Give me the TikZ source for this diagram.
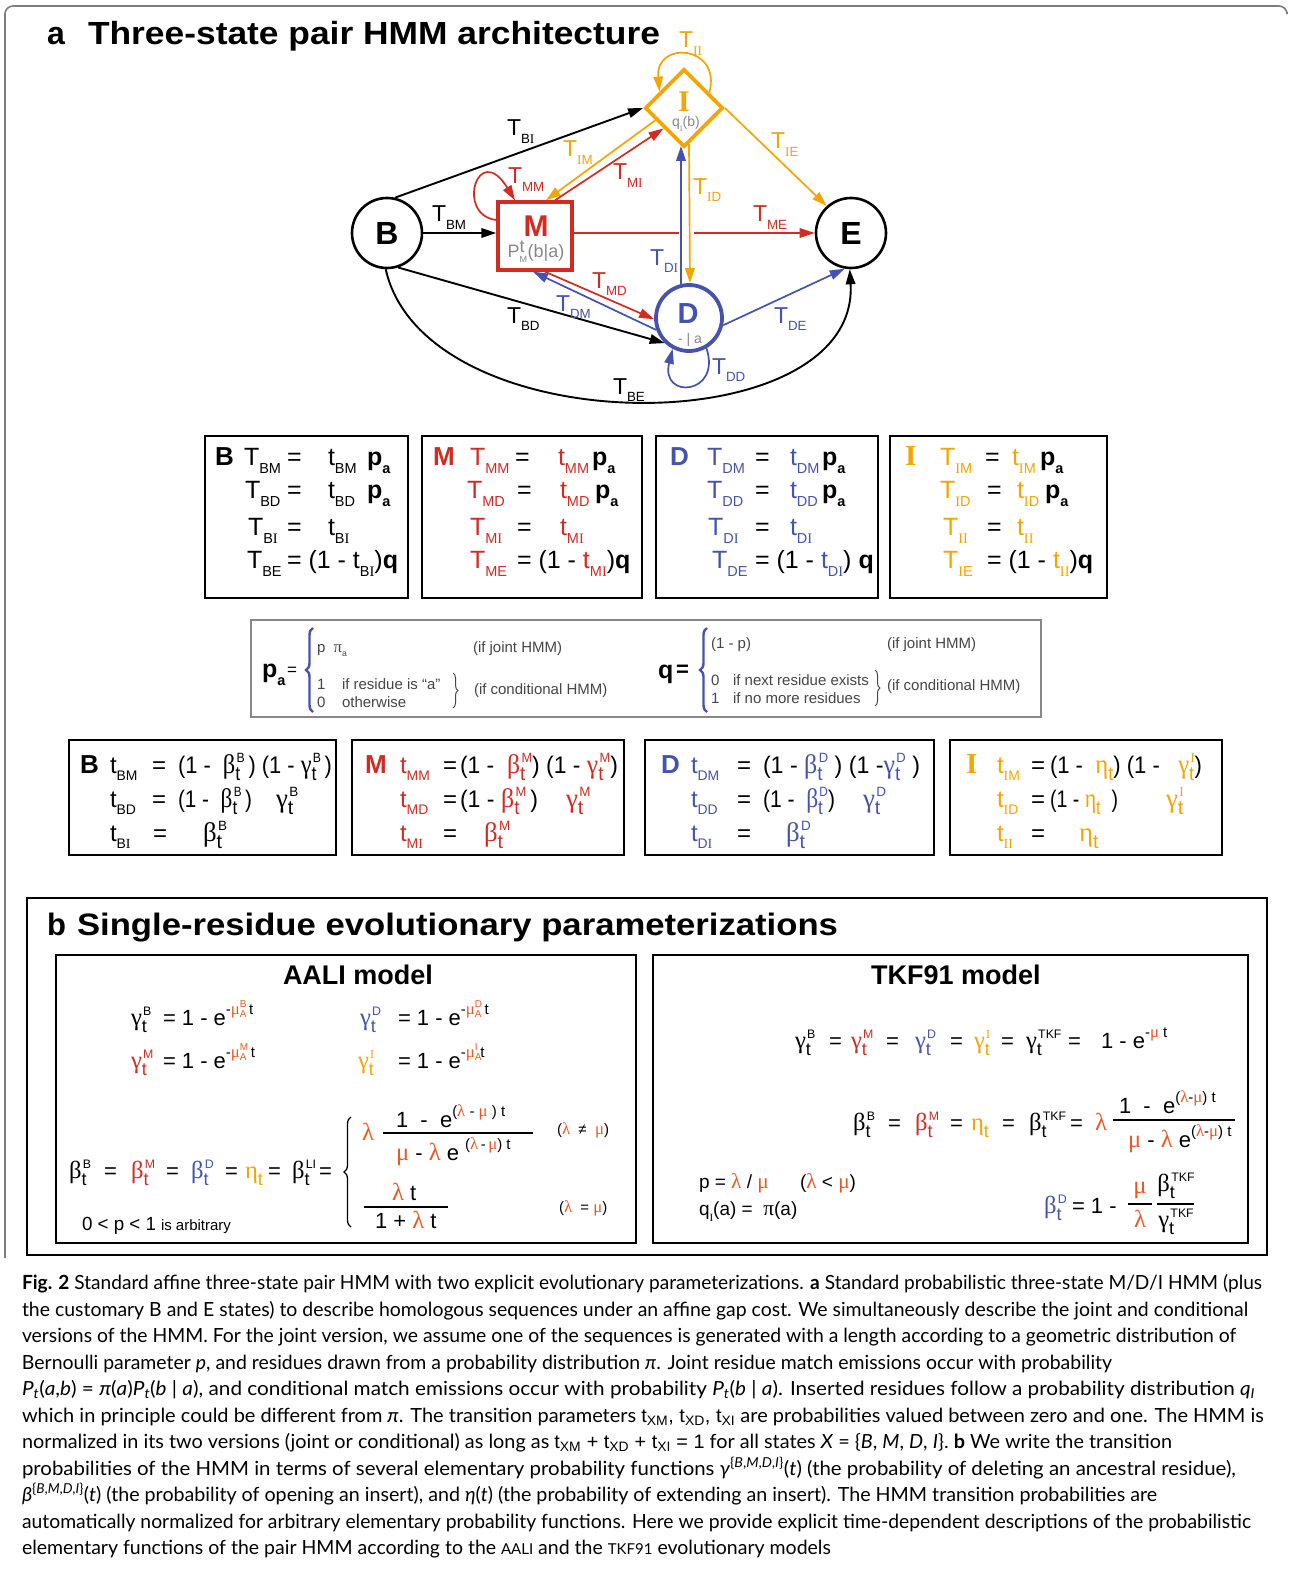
\documentclass[tikz,border=0pt]{standalone}
\usepackage{fontspec}
\usepackage{graphicx}
\setmainfont{Liberation Sans}
\newfontfamily\serifr{Liberation Serif}
\newfontfamily\capfont{Lato}
\usetikzlibrary{arrows.meta,shapes.geometric,decorations.pathreplacing,calc}

\definecolor{cM}{RGB}{211,42,34}
\definecolor{cD}{RGB}{70,82,176}
\definecolor{cI}{RGB}{246,165,0}
\definecolor{cL}{RGB}{238,88,30}
\definecolor{cG}{RGB}{135,135,135}
\definecolor{cT}{RGB}{70,70,70}
\definecolor{cF}{RGB}{125,125,125}

% font size, sub/superscripts, stacked scripts
\newcommand\fsz[1]{\fontsize{#1}{#1}\selectfont}
\newcommand\lo[1]{\raisebox{-0.32em}{\scalebox{0.58}{#1}}}
\newcommand\hi[1]{\raisebox{0.5em}{\scalebox{0.58}{#1}}}
% scripts of the Greek rate functions: a large subscript t, a small superscript
\newsavebox\gsbA
\newsavebox\gsbB
\newcommand\glo[1]{\raisebox{-0.32em}{\scalebox{0.82}{#1}}}
\newcommand\ghi[1]{\raisebox{0.44em}{\scalebox{0.56}{#1}}}
\newcommand\glohi[2]{\mbox{\sbox\gsbA{\glo{#1}}\sbox\gsbB{\hspace{0.06em}\ghi{#2}}%
  \ifdim\wd\gsbA>\wd\gsbB \rlap{\usebox\gsbB}\usebox\gsbA\else\rlap{\usebox\gsbA}\usebox\gsbB\fi}}
\newcommand\gk[1]{\scalebox{1.12}{\serifr #1}}
\newcommand\sBt[1]{\gk{β}\glohi{t}{#1}}
\newcommand\sGt[1]{\gk{γ}\glohi{t}{#1}}
\newcommand\sEt{\gk{η}\glo{t}}
\newcommand\gLam{\gk{λ}}
\newcommand\gMu{\gk{μ}}
\newcommand\gPi{\gk{π}}
\newcommand\sI{{\serifr I}}
\newcommand\wb[2]{\resizebox{#1pt}{\height}{#2}}
\newcommand\ssc[3]{\mbox{\rlap{\raisebox{-0.25em}{\fsz{#1}#2}}\raisebox{0.45em}{\fsz{#1}#3}}}
\newcommand\expo[1]{\raisebox{0.5em}{\fsz{15}#1}}
\newcounter{tn}
\newcommand\putt[3][]{\stepcounter{tn}\node[txtst,#1] (t\arabic{tn}) at (#2) {#3};}

\begin{document}
\begin{tikzpicture}[x=1pt,y=-1pt,
  txtst/.style={anchor=base west,inner sep=0pt,outer sep=0pt},
  tip/.style={-{Triangle[length=15pt,width=9.5pt]}},
  blk/.style={tip,line width=1.9pt,black},
  rd/.style={tip,line width=1.7pt,cM},
  bl/.style={tip,line width=1.7pt,cD},
  og/.style={tip,line width=1.7pt,cI},
  frm/.style={line width=2pt,black},
  lab/.style={font=\fsz{23}},
  cbr/.style={decorate,decoration={brace,amplitude=7pt},line width=2.4pt,cD}]
\useasboundingbox (0,0) rectangle (1290,1573);
\fill[white] (0,0) rectangle (1290,1573);

% ---------- panel a frame and title ----------
\draw[cF,line width=1.6pt,rounded corners=8pt] (5,1258) -- (5,6) -- (1287,6) -- (1287,12);
\putt[font=\bfseries\fsz{32}]{47,45}{a}
\putt[font=\bfseries\fsz{32}]{88,45}{\wb{572}{Three-state pair HMM architecture}}

% ---------- states ----------
\node[circle,draw,line width=2.6pt,minimum size=70pt,inner sep=0pt,font=\bfseries\fsz{32}] (B) at (387,233) {B};
\node[circle,draw,line width=2.6pt,minimum size=70pt,inner sep=0pt,font=\bfseries\fsz{32}] (E) at (851,233) {E};
\node[draw=cM,line width=3.4pt,minimum width=74pt,minimum height=68pt,inner sep=0pt] (M) at (535,236) {};
\node[cM,font=\bfseries\fsz{30}] (Mt) at (536,226) {M};
\node[cG,font=\fsz{18}] (Mp) at (536,252) {P\rlap{\raisebox{-0.3em}{\scalebox{0.5}{M}}}\raisebox{0.25em}{t}\,(b|a)};
\node[diamond,draw=cI,line width=3.8pt,minimum width=78pt,minimum height=78pt,inner sep=0pt] (I) at (684,108) {};
\node[cI,font=\serifr\bfseries\fsz{30}] (It) at (684,102) {I};
\node[cG,font=\fsz{14}] (Iq) at (686,124) {q\lo{\sI}(b)};
\node[circle,draw=cD,line width=3.8pt,minimum size=66pt,inner sep=0pt] (D) at (689,318) {};
\node[cD,font=\bfseries\fsz{29}] (Dt) at (688,314) {D};
\node[cG,font=\fsz{14}] (Da) at (690,340) {- | a};

% ---------- transitions ----------
\draw[blk] (B.77) -- (I.west);
\draw[blk] (B.east) -- (M.west |- B.east);
\draw[blk] (B.-72) -- (D.226);
\draw[blk] (B.-92) .. controls (425,445) and (860,445) .. (E.-92);
\draw[rd] ($(M.west)+(0,-16)$) .. controls (455,215) and (478,140) .. ($(M.north)+(-20,0)$);
\draw[rd] ($(M.north)+(20,0)$) -- (I.south west);
\draw[og] ($(I.west)!0.3!(I.south)$) -- ($(M.north)+(11,0)$);
\draw[rd] (M.east |- E.west) -- (E.west);
\fill[white] (679,228) rectangle (694,238);
\draw[bl] ($(D.north)+(-8,1)$) -- ($(I.south)+(-3,-3)$);
\draw[og] ($(I.south)+(5,-5)$) -- ($(D.north)+(1,0)$);
\draw[og] (I.east) -- (E.132);
\draw[rd] ($(M.south)+(10,0)$) -- (D.182);
\draw[bl] (D.200) -- ($(M.south)+(-2,0)$);
\draw[bl] (D.-12) -- (E.-100);
\draw[bl] (D.-60) .. controls (722,395) and (660,400) .. (D.-118);
\draw[og] ($(I.north)!0.62!(I.east)$) .. controls (722,45) and (655,40) .. ($(I.north)!0.6!(I.west)$);

% transition labels
\putt[lab,cI]{679,48}{T\lo{\sI\sI}}
\putt[lab]{507,136}{T\lo{B\sI}}
\putt[lab,cI]{563,157}{T\lo{\sI M}}
\putt[lab,cM]{613,180}{T\lo{M\sI}}
\putt[lab,cM]{508,184}{T\lo{MM}}
\putt[lab,cI]{693,194}{T\lo{\sI D}}
\putt[lab,cI]{771,149}{T\lo{\sI E}}
\putt[lab]{432,222}{T\lo{BM}}
\putt[lab,cM]{753,222}{T\lo{ME}}
\putt[lab,cD]{650,265}{T\lo{D\sI}}
\putt[lab,cM]{592,288}{T\lo{MD}}
\putt[lab,cD]{556,311}{T\lo{DM}}
\putt[lab]{507,323}{T\lo{BD}}
\putt[lab,cD]{774,323}{T\lo{DE}}
\putt[lab,cD]{712,374}{T\lo{DD}}
\putt[lab]{613,394}{T\lo{BE}}

% ---------- transition probability boxes ----------
\draw[frm] (205,436) rectangle (408,598);
\draw[frm] (422,436) rectangle (642,598);
\draw[frm] (656,436) rectangle (878,598);
\draw[frm] (890,436) rectangle (1107,598);
\begin{scope}[font=\fsz{25}]
\putt[font=\bfseries\fsz{26}]{215,465}{B}
\putt{244,465}{T\lo{BM}} \putt{287,465}{=} \putt{328,465}{t\lo{BM}} \putt{367,465}{\bfseries p\lo{a}}
\putt{245,498}{T\lo{BD}} \putt{287,498}{=} \putt{328,498}{t\lo{BD}} \putt{367,498}{\bfseries p\lo{a}}
\putt{248,535}{T\lo{B\sI}} \putt{287,535}{=} \putt{328,535}{t\lo{B\sI}}
\putt{247,568}{T\lo{BE}} \putt{287,568}{= (1 - t\lo{B\sI})\textbf{q}}

\putt[font=\bfseries\fsz{26},cM]{433,465}{M}
\putt[cM]{470,465}{T\lo{MM}} \putt{515,465}{=} \putt[cM]{558,465}{t\lo{MM}} \putt{592,465}{\bfseries p\lo{a}}
\putt[cM]{467,498}{T\lo{MD}} \putt{517,498}{=} \putt[cM]{560,498}{t\lo{MD}} \putt{595,498}{\bfseries p\lo{a}}
\putt[cM]{470,535}{T\lo{M\sI}} \putt{517,535}{=} \putt[cM]{560,535}{t\lo{M\sI}}
\putt[cM]{470,568}{T\lo{ME}} \putt{517,568}{= (1 - \textcolor{cM}{t\lo{M\sI}})\textbf{q}}

\putt[font=\bfseries\fsz{26},cD]{670,465}{D}
\putt[cD]{707,465}{T\lo{DM}} \putt{755,465}{=} \putt[cD]{790,465}{t\lo{DM}} \putt{822,465}{\bfseries p\lo{a}}
\putt[cD]{707,498}{T\lo{DD}} \putt{755,498}{=} \putt[cD]{790,498}{t\lo{DD}} \putt{822,498}{\bfseries p\lo{a}}
\putt[cD]{708,535}{T\lo{D\sI}} \putt{755,535}{=} \putt[cD]{790,535}{t\lo{D\sI}}
\putt[cD]{712,568}{T\lo{DE}} \putt{755,568}{= (1 - \textcolor{cD}{t\lo{D\sI}}) \textbf{q}}

\putt[font=\serifr\bfseries\fsz{29},cI]{905,465}{I}
\putt[cI]{940,465}{T\lo{\sI M}} \putt{985,465}{=} \putt[cI]{1012,465}{t\lo{\sI M}} \putt{1040,465}{\bfseries p\lo{a}}
\putt[cI]{940,498}{T\lo{\sI D}} \putt{987,498}{=} \putt[cI]{1017,498}{t\lo{\sI D}} \putt{1045,498}{\bfseries p\lo{a}}
\putt[cI]{943,535}{T\lo{\sI\sI}} \putt{987,535}{=} \putt[cI]{1017,535}{t\lo{\sI\sI}}
\putt[cI]{943,568}{T\lo{\sI E}} \putt{987,568}{= (1 - \textcolor{cI}{t\lo{\sI\sI}})\textbf{q}}
\end{scope}

% ---------- p_a and q definitions ----------
\draw[cG,line width=2pt] (251,620) rectangle (1041,717);
\begin{scope}[font=\fsz{15},cT]
\putt[font=\bfseries\fsz{25},black]{262,677}{p\lo{a}}
\putt[font=\fsz{17},black]{287,675}{=}
\draw[cbr] (313,712) -- (313,628);
\putt{317,652}{p\ \ \gPi\lo{a}}
\putt{473,652}{(if joint HMM)}
\putt{317,689}{1} \putt{342,689}{if residue is “a”}
\putt{317,707}{0} \putt{342,707}{otherwise}
\draw[decorate,decoration={brace,amplitude=5pt},line width=1pt,cT] (453,673) -- (453,708);
\putt{474,694}{(if conditional HMM)}
\putt[font=\bfseries\fsz{25},black]{658,678}{q}
\putt[font=\bfseries\fsz{22},black]{676,676}{=}
\draw[cbr] (707,712) -- (707,628);
\putt{711,648}{(1 - p)}
\putt{887,648}{(if joint HMM)}
\putt{711,685}{0} \putt{733,685}{if next residue exists}
\putt{711,703}{1} \putt{733,703}{if no more residues}
\draw[decorate,decoration={brace,amplitude=5pt},line width=1pt,cT] (875,670) -- (875,706);
\putt{887,690}{(if conditional HMM)}
\end{scope}

% ---------- elementary parameterization boxes ----------
\draw[frm] (69,740) rectangle (336,855);
\draw[frm] (352,740) rectangle (624,855);
\draw[frm] (645,740) rectangle (934,855);
\draw[frm] (950,740) rectangle (1222,855);
\begin{scope}[font=\fsz{24}]
\putt[font=\bfseries\fsz{26}]{80,773}{B}
\putt{110,773}{t\lo{BM}} \putt{152,773}{=} \putt{178,773}{\wb{154}{(1 - \ \sBt{B}\,) (1 - \sGt{B}\,)}}
\putt{110,807}{t\lo{BD}} \putt{152,807}{=} \putt{178,807}{\wb{74}{(1 - \ \sBt{B}\,)}} \putt{276,807}{\sGt{B}}
\putt{110,841}{t\lo{B\sI}} \putt{153,841}{=} \putt{203,841}{\sBt{B}}

\putt[font=\bfseries\fsz{26},cM]{365,773}{M}
\putt[cM]{400,773}{t\lo{MM}} \putt{443,773}{=} \putt{460,773}{\wb{158}{(1 - \ \textcolor{cM}{\sBt{M}}) (1 - \textcolor{cM}{\sGt{M}})}}
\putt[cM]{400,807}{t\lo{MD}} \putt{443,807}{=} \putt{460,807}{\wb{78}{(1 - \textcolor{cM}{\sBt{M}}\,)}} \putt[cM]{566,807}{\sGt{M}}
\putt[cM]{400,841}{t\lo{M\sI}} \putt{443,841}{=} \putt[cM]{484,841}{\sBt{M}}

\putt[font=\bfseries\fsz{26},cD]{661,773}{D}
\putt[cD]{691,773}{t\lo{DM}} \putt{737,773}{=} \putt{763,773}{\wb{157}{(1 - \textcolor{cD}{\sBt{D}}\ ) (1 -\textcolor{cD}{\sGt{D}}\ )}}
\putt[cD]{691,807}{t\lo{DD}} \putt{737,807}{=} \putt{763,807}{\wb{72}{(1 - \ \textcolor{cD}{\sBt{D}})}} \putt[cD]{863,807}{\sGt{D}}
\putt[cD]{691,841}{t\lo{D\sI}} \putt{737,841}{=} \putt[cD]{786,841}{\sBt{D}}

\putt[font=\serifr\bfseries\fsz{29},cI]{966,773}{I}
\putt[cI]{997,773}{t\lo{\sI M}} \putt{1031,773}{=} \putt{1050,773}{\wb{152}{(1 - \ \textcolor{cI}{\sEt}) (1 - \ \ \textcolor{cI}{\sGt{\sI}})}}
\putt[cI]{997,807}{t\lo{\sI D}} \putt{1031,807}{=} \putt{1050,807}{\wb{68}{(1 - \textcolor{cI}{\sEt}\ \ )}} \putt[cI]{1166,807}{\sGt{\sI}}
\putt[cI]{997,841}{t\lo{\sI\sI}} \putt{1031,841}{=} \putt[cI]{1079,841}{\sEt}
\end{scope}

% ---------- panel b ----------
\draw[frm] (27,898) rectangle (1267,1255);
\putt[font=\bfseries\fsz{31}]{47,935}{b}
\putt[font=\bfseries\fsz{31}]{77,935}{\wb{761}{Single-residue evolutionary parameterizations}}
\draw[line width=1.6pt] (56,955) rectangle (636,1243);
\draw[line width=1.6pt] (653,955) rectangle (1248,1243);

% AALI model
\node[font=\bfseries\fsz{27}] (aali) at (358,975) {AALI model};
\begin{scope}[font=\fsz{22}]
\putt{131,1025}{\sGt{B}} \putt{163,1025}{= 1 - e\expo{-\textcolor{cL}{\gMu\ssc{10}{A}{B}}\,t}}
\putt[cM]{131,1068}{\sGt{M}} \putt{163,1068}{= 1 - e\expo{-\textcolor{cL}{\gMu\ssc{10}{A}{M}}\,t}}
\putt[cD]{360,1025}{\sGt{D}} \putt{398,1025}{= 1 - e\expo{-\textcolor{cL}{\gMu\ssc{10}{A}{D}}\,t}}
\putt[cI]{358,1068}{\sGt{\sI}} \putt{398,1068}{= 1 - e\expo{-\textcolor{cL}{\gMu\ssc{10}{A}{I}}\,t}}

\putt{69,1178}{\sBt{B}} \putt{104,1178}{=} \putt[cM]{131,1178}{\sBt{M}} \putt{166,1178}{=}
\putt[cD]{191,1178}{\sBt{D}} \putt{225,1178}{=} \putt[cI]{245,1178}{\sEt} \putt{268,1178}{=}
\putt{292,1178}{\sBt{LI}} \putt{319,1178}{=}
\draw[decorate,decoration={brace,amplitude=7pt},line width=1.3pt] (351,1227) -- (351,1117);
\putt[cL]{362,1140}{\gLam}
\putt{396,1127}{1 \ - \ e\expo{(\textcolor{cL}{\gLam} - \textcolor{cL}{\gMu} ) t}}
\draw[line width=1.2pt] (383,1133) -- (533,1133);
\putt{396,1160}{\textcolor{cL}{\gMu} - \textcolor{cL}{\gLam} e \expo{(\textcolor{cL}{\gLam}\,-\,\textcolor{cL}{\gMu}) t}}
\putt[font=\fsz{15}]{557,1134}{(\textcolor{cL}{\gLam} \ ≠ \ \textcolor{cL}{\gMu})}
\putt{392,1200}{\textcolor{cL}{\gLam} t}
\draw[line width=1.2pt] (364,1207) -- (448,1207);
\putt{375,1228}{1 + \textcolor{cL}{\gLam} t}
\putt[font=\fsz{15}]{559,1212}{(\textcolor{cL}{\gLam} \ = \textcolor{cL}{\gMu})}
\putt[font=\fsz{19}]{82,1230}{\wb{74}{0 < p < 1}}
\putt[font=\fsz{15}]{161,1230}{is arbitrary}
\end{scope}

% TKF91 model
\node[font=\bfseries\fsz{27}] (tkf) at (956,975) {TKF91 model};
\begin{scope}[font=\fsz{22}]
\putt{795,1048}{\sGt{B}} \putt{829,1048}{=} \putt[cM]{851,1048}{\sGt{M}} \putt{886,1048}{=}
\putt[cD]{915,1048}{\sGt{D}} \putt{950,1048}{=} \putt[cI]{974,1048}{\sGt{\sI}} \putt{1001,1048}{=}
\putt{1026,1048}{\sGt{TKF}} \putt{1068,1048}{=} \putt{1101,1048}{1 - e\expo{-\textcolor{cL}{\gMu}\ t}}

\putt{853,1130}{\sBt{B}} \putt{888,1130}{=} \putt[cM]{915,1130}{\sBt{M}} \putt{950,1130}{=}
\putt[cI]{971,1130}{\sEt} \putt{1002,1130}{=} \putt{1029,1130}{\sBt{TKF}} \putt{1070,1130}{=}
\putt[cL]{1095,1130}{\gLam}
\putt{1119,1113}{1 \ - \ e\expo{(\textcolor{cL}{\gLam}-\textcolor{cL}{\gMu}) t}}
\draw[line width=1.2pt] (1113,1120) -- (1235,1120);
\putt{1128,1147}{\textcolor{cL}{\gMu} - \textcolor{cL}{\gLam} e\expo{(\textcolor{cL}{\gLam}-\textcolor{cL}{\gMu}) t}}

\putt[font=\fsz{19}]{699,1188}{p = \textcolor{cL}{\gLam} / \textcolor{cL}{\gMu}}
\putt[font=\fsz{19}]{800,1188}{(\textcolor{cL}{\gLam} < \textcolor{cL}{\gMu})}
\putt[font=\fsz{19}]{699,1215}{q\lo{\sI}(a) = \ \gPi(a)}

\putt[cD]{1044,1213}{\sBt{D}} \putt{1072,1213}{= 1 -}
\node[cL,inner sep=0pt] (fmu) at (1140,1190) {\gMu};
\draw[line width=1.2pt] (1128,1204) -- (1152,1204);
\node[cL,inner sep=0pt] (fla) at (1140,1219) {\gLam};
\node[inner sep=0pt] (fbe) at (1176,1186) {\sBt{TKF}};
\draw[line width=1.2pt] (1157,1204) -- (1194,1204);
\node[inner sep=0pt] (fga) at (1176,1222) {\sGt{TKF}};
\end{scope}

% ---------- caption ----------
\begin{scope}[font=\capfont\fsz{19.5}]
\putt{22,1289}{\wb{1240}{\textbf{Fig. 2} Standard affine three-state pair HMM with two explicit evolutionary parameterizations. \textbf{a} Standard probabilistic three-state M/D/I HMM (plus}}
\putt{22,1316}{\wb{1226}{the customary B and E states) to describe homologous sequences under an affine gap cost. We simultaneously describe the joint and conditional}}
\putt{22,1342}{\wb{1214}{versions of the HMM. For the joint version, we assume one of the sequences is generated with a length according to a geometric distribution of}}
\putt{22,1369}{\wb{1090}{Bernoulli parameter \textit{p}, and residues drawn from a probability distribution \textit{π}. Joint residue match emissions occur with probability}}
\putt{22,1395}{\wb{1233}{\textit{P}\textsubscript{\textit{t}}(\textit{a},\textit{b}) = \textit{π}(\textit{a})\textit{P}\textsubscript{\textit{t}}(\textit{b} | \textit{a}), and conditional match emissions occur with probability \textit{P}\textsubscript{\textit{t}}(\textit{b} | \textit{a}). Inserted residues follow a probability distribution \textit{q}\textsubscript{\textit{I}}}}
\putt{22,1422}{\wb{1242}{which in principle could be different from \textit{π}. The transition parameters {\rmfamily t\textsubscript{XM}, t\textsubscript{XD}, t\textsubscript{XI}} are probabilities valued between zero and one. The HMM is}}
\putt{22,1448}{\wb{1150}{normalized in its two versions (joint or conditional) as long as {\rmfamily t\textsubscript{XM} + t\textsubscript{XD} + t\textsubscript{XI} = 1} for all states \textit{X} = \{\textit{B}, \textit{M}, \textit{D}, \textit{I}\}. \textbf{b} We write the transition}}
\putt{22,1475}{\wb{1214}{probabilities of the HMM in terms of several elementary probability functions \textit{γ}\textsuperscript{\{\textit{B},\textit{M},\textit{D},\textit{I}\}}(\textit{t}) (the probability of deleting an ancestral residue),}}
\putt{22,1501}{\wb{1135}{\textit{β}\textsuperscript{\{\textit{B},\textit{M},\textit{D},\textit{I}\}}(\textit{t}) (the probability of opening an insert), and \textit{η}(\textit{t}) (the probability of extending an insert). The HMM transition probabilities are}}
\putt{22,1528}{\wb{1229}{automatically normalized for arbitrary elementary probability functions. Here we provide explicit time-dependent descriptions of the probabilistic}}
\putt{22,1554}{\wb{809}{elementary functions of the pair HMM according to the {\fsz{15}AALI} and the {\fsz{15}TKF91} evolutionary models}}
\end{scope}
\end{tikzpicture}
\end{document}
